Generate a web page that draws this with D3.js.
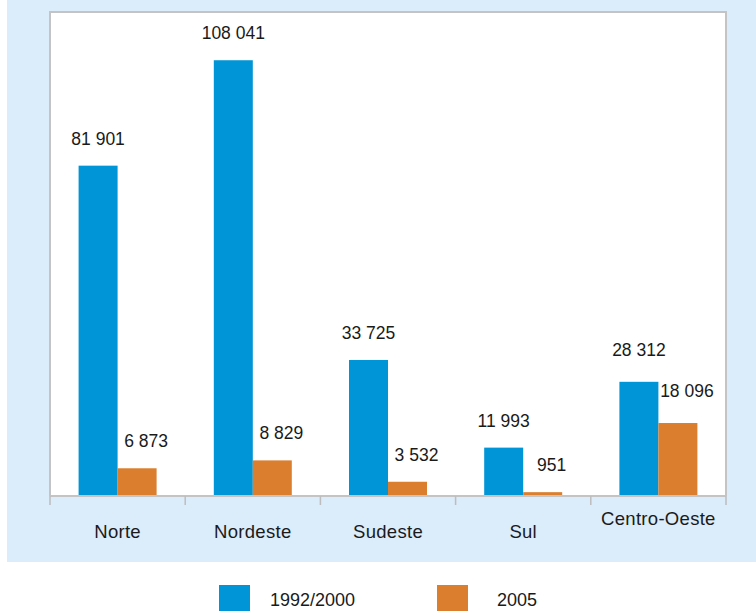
<!DOCTYPE html>
<html><head><meta charset="utf-8">
<script src="https://cdn.jsdelivr.net/npm/d3@7"></script>
<style>body{margin:0;background:#fff;} svg{display:block;} text{font-family:"Liberation Sans",Arial,sans-serif;fill:#1a1a1a;}</style>
</head><body>
<svg id="c" width="756" height="611"></svg>
<script>
const categories = ["Norte","Nordeste","Sudeste","Sul","Centro-Oeste"];
const seriesNames = ["1992/2000","2005"];
const values1992 = [81901,108041,33725,11993,28312];
const values2005 = [6873,8829,3532,951,18096];
const labels1992 = ["81 901","108 041","33 725","11 993","28 312"];
const labels2005 = ["6 873","8 829","3 532","951","18 096"];
const colors = ["#0095d6","#db7f2e"];

const svg = d3.select("#c");
svg.append("rect").attr("x",7).attr("y",0).attr("width",749).attr("height",562).attr("fill","#dbecfa");

const L=50, R=726, T=12, B=496;
svg.append("rect").attr("x",L).attr("y",T).attr("width",R-L).attr("height",B-T).attr("fill","#fff");
svg.append("path").attr("d",`M${L},${B}V${T}H${R}V${B}`).attr("fill","none").attr("stroke","#c4c4c4").attr("stroke-width",2);

const x = d3.scaleBand().domain(categories).range([L,R]);
const y = d3.scaleLinear().domain([0,120000]).range([B,T]);
const barW = 39;

const data = categories.map((c,i)=>({c,i,v:[values1992[i],values2005[i]],l:[labels1992[i],labels2005[i]]}));

const g = svg.append("g");
data.forEach(d=>{
  const cx = x(d.c)+x.bandwidth()/2;
  [0,1].forEach(s=>{
    const bx = cx - barW + s*barW;
    g.append("rect").attr("x",bx).attr("y",y(d.v[s])).attr("width",barW).attr("height",B-y(d.v[s])).attr("fill",colors[s]);
    const extra = d.i===4 ? 5 : 0;
    g.append("text").attr("x",bx+barW/2+(s===1?9:0)).attr("y",y(d.v[s])-21-extra)
      .attr("text-anchor","middle").attr("font-size","17.5px").text(d.l[s]);
  });
});

// x axis
const ax = svg.append("g").attr("transform",`translate(0,${B})`);
ax.append("line").attr("x1",L).attr("x2",R).attr("stroke","#c4c4c4").attr("stroke-width",2);
const edges = categories.map(c=>x(c)).concat([R]);
edges.forEach(e=>ax.append("line").attr("x1",e).attr("x2",e).attr("y1",0).attr("y2",9).attr("stroke","#bdbdbd").attr("stroke-width",1.5));
categories.forEach((c,i)=>{
  ax.append("text").attr("x",x(c)+x.bandwidth()/2).attr("y",i===4?29:42)
    .attr("text-anchor","middle").attr("font-size","18.5px").attr("letter-spacing","0.3px").text(c);
});

// legend
const lg = svg.append("g");
const lx = [219,437], tx=[270,497];
seriesNames.forEach((n,i)=>{
  lg.append("rect").attr("x",lx[i]).attr("y",585).attr("width",31).attr("height",31).attr("fill",colors[i]);
  lg.append("text").attr("x",tx[i]).attr("y",606).attr("font-size","18px").text(n);
});
</script>
</body></html>
